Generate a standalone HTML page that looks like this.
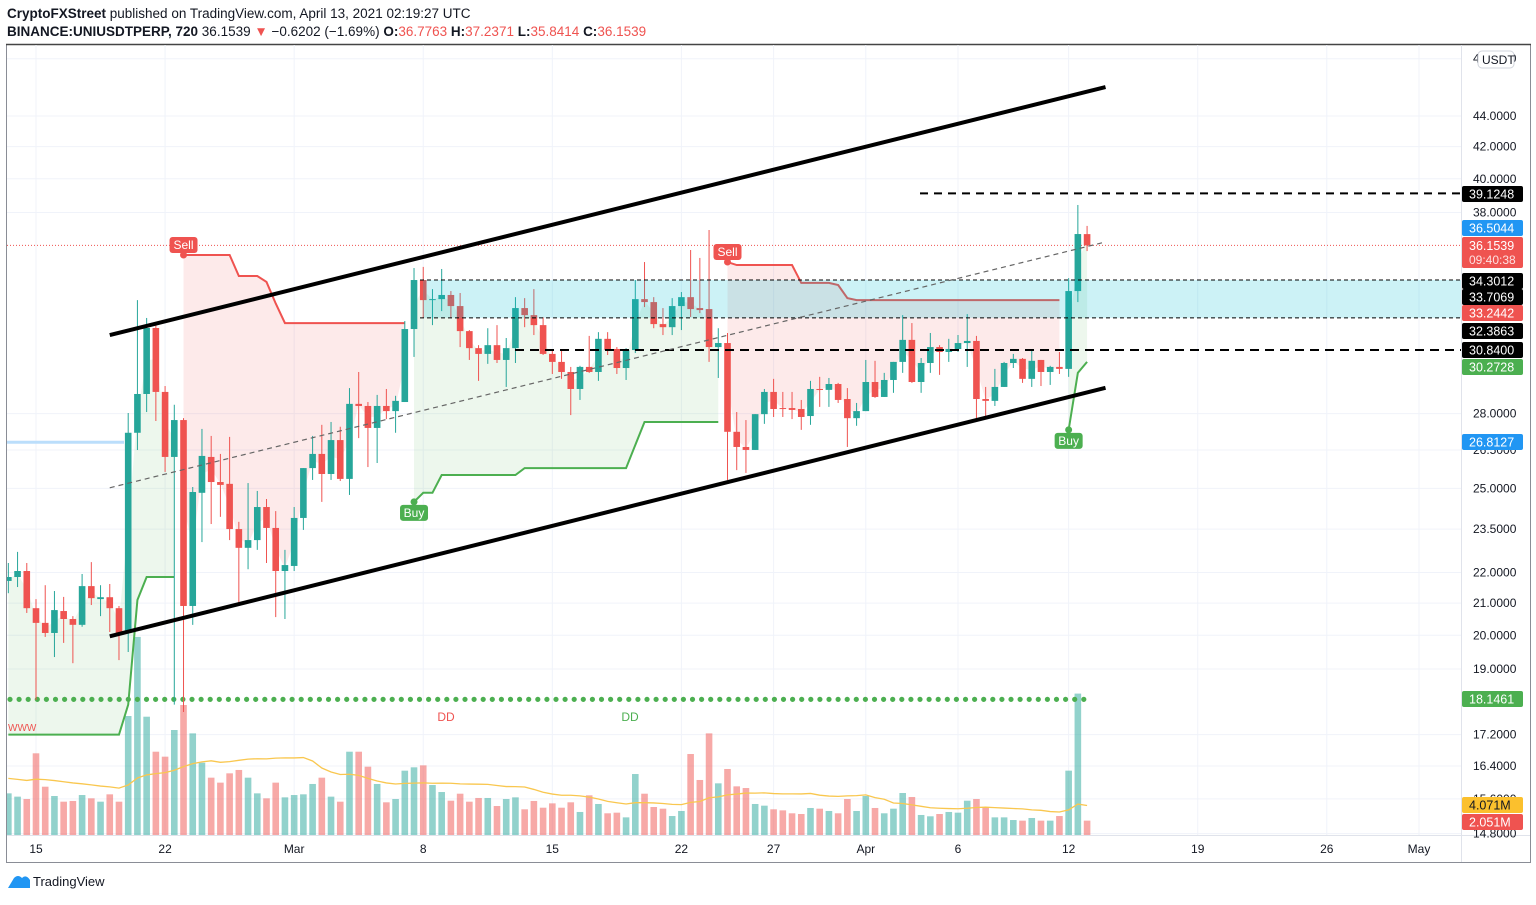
<!DOCTYPE html>
<html><head><meta charset="utf-8">
<style>
body{margin:0;background:#fff;width:1536px;height:900px;overflow:hidden;font-family:"Liberation Sans",sans-serif}
svg text{font-family:"Liberation Sans",sans-serif}
</style></head>
<body>
<svg id="chart" width="1536" height="900" viewBox="0 0 1536 900">
<defs><clipPath id="plotClip"><rect x="7" y="45" width="1454" height="790"/></clipPath></defs>
<g>
<text x="7" y="18" font-size="13.5" fill="#131722"><tspan font-weight="bold">CryptoFXStreet</tspan> published on TradingView.com, April 13, 2021 02:19:27 UTC</text>
<text x="7" y="36" font-size="13.5" fill="#131722"><tspan font-weight="bold">BINANCE:UNIUSDTPERP, 720</tspan> 36.1539 <tspan fill="#ef5350">▼</tspan> −0.6202 (−1.69%) <tspan font-weight="bold">O:</tspan><tspan fill="#ef5350">36.7763</tspan> <tspan font-weight="bold">H:</tspan><tspan fill="#ef5350">37.2371</tspan> <tspan font-weight="bold">L:</tspan><tspan fill="#ef5350">35.8414</tspan> <tspan font-weight="bold">C:</tspan><tspan fill="#ef5350">36.1539</tspan></text>
</g>
<rect x="6.5" y="44.5" width="1524" height="818" fill="none" stroke="#8a8d96" stroke-width="1"/>
<line x1="6" y1="44.5" x2="1531" y2="44.5" stroke="#444" stroke-width="1.5"/>
<g id="grid"></g>
<g clip-path="url(#plotClip)">
<g id="fills"></g>
<g id="volume"></g>
<g id="levels"></g>
<g id="st"></g>
<g id="candles"></g>
<g id="zone"></g>
<g id="channel"></g>
<g id="marks"></g>
</g>
<line x1="1461.5" y1="45" x2="1461.5" y2="862" stroke="#e0e3eb"/>
<line x1="7" y1="835.5" x2="1530" y2="835.5" stroke="#e0e3eb"/>
<g id="paxis"></g>
<g id="taxis"></g>
<g>
<path d="M8 888 L14 878 Q18 874 22 878 Q26 874 30 880 L30 888 Z" fill="#2196f3"/>
<text x="33" y="886" font-size="13" fill="#131722">TradingView</text>
</g>
</svg>
<script>
const NS='http://www.w3.org/2000/svg';
const firstHalfDay=-3;
const opens=[21.72,21.85,22.05,20.84,20.38,20.07,20.75,20.50,20.32,21.55,21.13,21.19,20.84,
20.07,27.20,28.85,31.89,28.94,26.22,27.73,20.91,24.83,26.22,
25.24,25.17,23.50,22.84,23.11,24.30,23.54,22.05,22.22,23.90,
25.78,26.34,25.55,26.90,25.36,28.42,28.33,27.40,28.33,28.11,
28.50,31.84,34.30,33.27,33.32,33.53,32.97,31.74,30.93,30.66,
31.07,30.38,30.93,32.87,32.52,32.03,30.66,30.29,29.83,29.07,
30.06,29.83,31.37,30.89,30.01,30.84,33.32,33.17,32.08,31.93,
32.97,33.42,32.87,32.82,30.98,31.17,27.24,26.62,26.50,27.98,
28.94,28.24,28.24,28.20,27.90,29.07,29.03,29.29,28.63,27.81,
28.11,29.38,28.72,29.47,30.29,31.32,29.38,30.24,30.98,30.75,
30.89,31.17,31.27,28.63,28.55,29.16,30.24,30.43,29.52,30.38,
29.83,30.06,29.97,33.73,36.7763];
const highs=[22.32,22.70,22.32,21.13,21.58,21.39,21.20,20.59,21.95,22.35,21.58,21.62,20.91,
28.03,33.27,32.38,32.13,29.20,28.38,27.81,25.05,27.36,27.07,
26.34,27.03,23.76,25.20,24.90,24.60,24.15,22.77,24.30,25.78,
27.07,27.53,27.65,27.45,29.11,29.83,28.50,28.81,29.07,28.77,
32.23,34.93,34.99,33.83,34.88,33.73,33.63,31.79,31.07,31.88,
32.03,31.41,33.42,33.37,33.83,32.42,30.84,30.84,30.06,30.11,
31.51,31.69,31.69,30.98,30.93,34.30,35.25,33.42,32.87,33.37,
33.68,35.90,35.47,37.01,31.88,31.65,28.07,27.73,27.98,29.07,
29.52,28.94,28.94,28.59,29.43,29.61,29.56,29.34,29.11,28.46,
30.38,30.34,29.79,30.29,32.52,32.13,30.47,31.65,31.07,31.37,
31.55,32.57,31.51,29.16,29.97,30.29,30.66,30.47,30.89,30.38,
30.11,30.75,34.40,38.44,37.2371];
const lows=[21.32,21.52,20.69,18.13,19.95,19.35,19.77,19.17,20.26,20.94,20.59,20.10,19.26,
19.50,26.50,28.07,27.69,25.63,18.00,17.80,20.32,23.04,23.68,
23.94,23.11,21.01,22.11,22.77,22.32,20.56,20.50,22.05,23.47,
25.32,24.49,25.32,25.28,24.75,26.98,25.82,25.98,27.77,27.20,
28.50,30.52,32.38,32.03,32.72,32.38,30.98,30.38,29.43,30.20,
30.24,29.16,30.24,31.93,31.55,30.61,29.74,29.52,27.94,28.59,
29.79,29.43,30.61,29.74,29.47,30.70,32.92,31.88,31.55,31.55,
31.79,32.43,32.62,30.29,29.56,25.32,25.70,25.59,26.50,27.57,
27.86,27.86,27.77,27.32,27.53,28.29,28.29,28.46,26.62,27.49,
28.11,28.68,28.72,28.90,29.79,29.34,28.90,29.79,29.70,30.29,
30.75,30.06,27.73,27.86,28.33,29.16,30.01,29.34,29.16,29.20,
29.25,29.74,29.61,33.17,35.8414];
const closes=[21.85,22.05,20.84,20.38,20.07,20.78,20.50,20.32,21.55,21.16,21.19,20.84,20.07,
27.20,28.85,31.89,28.94,26.22,27.73,20.91,24.86,26.26,25.24,
25.13,23.50,22.84,23.11,24.30,23.54,22.05,22.25,23.90,25.78,
26.34,25.55,26.90,25.36,28.42,28.33,27.40,28.33,28.11,28.55,
31.84,34.30,33.27,33.32,33.53,32.97,31.74,30.93,30.66,31.07,
30.38,30.93,32.87,32.52,32.03,30.66,30.29,29.83,29.07,30.06,
29.83,31.37,30.84,30.01,30.84,33.32,33.17,32.08,31.93,32.97,
33.42,32.82,32.77,30.98,31.17,27.24,26.62,26.50,27.98,28.94,
28.20,28.20,28.16,27.86,29.07,29.03,29.29,28.59,27.81,28.11,
29.38,28.72,29.47,30.29,31.32,29.38,30.24,30.98,30.75,30.89,
31.17,31.27,28.63,28.55,29.16,30.24,30.43,29.52,30.34,29.83,
30.06,29.97,33.73,36.78,36.1539];
const volumes=[5.95,5.48,5.14,11.67,6.9,5.57,4.76,4.86,5.71,5.24,4.76,5.81,4.76,
17.0,28.3,16.9,11.9,11.19,15.0,18.57,14.52,10.33,8.19,
7.48,8.81,9.29,8.19,5.95,5.24,7.48,5.38,5.71,5.81,
7.29,8.19,5.48,4.76,11.9,11.9,9.76,7.29,4.67,5.14,
9.19,9.67,9.95,7.14,6.14,4.9,5.9,4.76,5.29,5.29,
4.14,5.14,5.38,3.67,4.86,3.9,4.52,3.9,4.67,3.29,
5.67,4.43,3.1,3.19,2.52,8.71,5.9,4.0,3.76,2.71,
3.43,11.57,7.86,14.52,7.38,9.43,6.95,6.71,4.43,4.19,
3.67,3.52,3.1,3.0,3.86,3.76,3.43,3.1,5.14,3.43,
5.57,3.86,3.1,3.76,6.0,5.43,2.86,2.67,3.0,3.29,
3.19,4.9,5.14,4.0,2.52,2.52,2.14,2.05,2.43,2.05,
2.05,2.71,9.19,20.2,2.051];
const N=null;
const stUp=[17.2,17.2,17.2,17.2,17.2,17.2,17.2,17.2,17.2,17.2,17.2,17.2,17.2,
18.0,21.10,21.85,21.85,21.85,21.85,N,N,N,N,
N,N,N,N,N,N,N,N,N,N,
N,N,N,N,N,N,N,N,N,N,
N,24.49,24.83,24.83,25.51,25.51,25.51,25.51,25.51,25.51,
25.51,25.51,25.51,25.78,25.78,25.78,25.78,25.78,25.78,25.78,
25.78,25.78,25.78,25.78,25.78,26.7,27.65,27.65,27.65,27.65,
27.65,27.65,27.65,27.65,27.65,N,N,N,N,N,
N,N,N,N,N,N,N,N,N,N,
N,N,N,N,N,N,N,N,N,N,
N,N,N,N,N,N,N,N,N,N,
N,N,27.32,29.79,30.29];
const stDn=[N,N,N,N,N,N,N,N,N,N,N,N,N,
N,N,N,N,N,N,35.63,35.63,35.63,35.63,
35.63,35.63,34.51,34.51,34.51,34.2,33.1,32.13,32.13,32.13,
32.13,32.13,32.13,32.13,32.13,32.13,32.13,32.13,32.13,32.13,
32.13,N,N,N,N,N,N,N,N,N,
N,N,N,N,N,N,N,N,N,N,
N,N,N,N,N,N,N,N,N,N,
N,N,N,N,N,35.25,35.09,35.09,35.09,35.09,
35.09,35.09,35.09,34.15,34.15,34.15,34.15,34.04,33.37,33.27,
33.27,33.27,33.27,33.27,33.27,33.27,33.27,33.27,33.27,33.27,
33.27,33.27,33.27,33.27,33.27,33.27,33.27,33.27,33.27,33.27,
33.27,33.27,N,N,N];
const priceTicks=[48,44,42,40,38,28,26.5,25,23.5,22,21,20,19,17.2,16.4,15.6,14.8];
const timeTickDays=[0,7,14,21,28,35,40,45,50,56,63,70,75];
const timeTickLabels=['15','22','Mar','8','15','22','27','Apr','6','12','19','26','May'];
const levelPrices=[39.1248,34.3012,32.3863,30.84];
const supportLevel=26.8127;
const dotLevel=18.1461;
const lastPrice=36.1539;
const volMaLen=20;
const priorVolAvg=8.2;
const chanUpper=[[8,31.55],[116,45.98]];
const chanLower=[[8,19.97],[116,29.12]];
const chanMid=[[8,25.02],[116,36.34]];

function xOf(h){return 36+h*9.22;}
function yOf(p){return 116+(Math.log(44)-Math.log(p))*658.6;}
function vy(v){return 835-v*7;}
function hOf(k){return k+firstHalfDay;}
function kOf(h){return h-firstHalfDay;}
function mk(parent,tag,attrs,text){const e=document.createElementNS(NS,tag);for(const k in attrs)e.setAttribute(k,attrs[k]);if(text!==undefined)e.textContent=text;parent.appendChild(e);return e;}
const G=id=>document.getElementById(id);

for(const p of priceTicks){
  const el=mk(G('grid'),'line',{x1:7,x2:1461,y1:yOf(p),y2:yOf(p),stroke:'#f0f3fa'});
  
  
}
timeTickDays.forEach((d,i)=>{
  const el=mk(G('grid'),'line',{x1:xOf(d*2),x2:xOf(d*2),y1:45,y2:835,stroke:'#f0f3fa'});
  
  
  const t=mk(G('taxis'),'text',{x:xOf(d*2),y:853,'font-size':12,fill:'#131722','text-anchor':'middle'},timeTickLabels[i]);
  
  
});

function runs(arr){const r=[];let s=-1;arr.forEach((v,k)=>{if(v!==null&&s<0)s=k;if((v===null||k===arr.length-1)&&s>=0){r.push([s,v===null?k-1:k]);s=-1;}});return r;}
function fillRuns(arr,color,name){
  for(const [a,b] of runs(arr)){
    let pts=[];
    for(let k=a;k<=b;k++)pts.push(xOf(hOf(k))+','+yOf(arr[k]));
    for(let k=b;k>=a;k--)pts.push(xOf(hOf(k))+','+yOf((opens[k]+closes[k])/2));
    const el=mk(G('fills'),'polygon',{points:pts.join(' '),fill:color});
    
    
    const pl=[];for(let k=a;k<=b;k++)pl.push(xOf(hOf(k))+','+yOf(arr[k]));
    const ln=mk(G('st'),'polyline',{points:pl.join(' '),fill:'none',stroke:name==='uptrend-fill'?'#4caf50':'#ef5350','stroke-width':2});
    
    
  }
}
fillRuns(stUp,'rgba(76,175,80,0.1)','uptrend-fill');
fillRuns(stDn,'rgba(239,83,80,0.12)','downtrend-fill');

const maPts=[];
volumes.forEach((v,k)=>{
  const up=closes[k]>=opens[k];
  const x=xOf(hOf(k));
  const el=mk(G('volume'),'rect',{x:x-3.3,y:vy(v),width:6.6,height:v*7,fill:up?'rgba(38,166,154,0.5)':'rgba(239,83,80,0.5)'});
  
  
  let s=0;for(let j=k-volMaLen+1;j<=k;j++)s+=(j>=0?volumes[j]:priorVolAvg);
  maPts.push(x+','+vy(s/volMaLen));
});
const ma=mk(G('volume'),'polyline',{points:maPts.join(' '),fill:'none',stroke:'#f9c74f','stroke-width':1.3});



const lv=G('levels');
let el=mk(lv,'line',{x1:7,x2:1461,y1:yOf(lastPrice),y2:yOf(lastPrice),stroke:'#ef5350','stroke-width':1,'stroke-dasharray':'1,2'});


el=mk(lv,'line',{x1:7,x2:124,y1:yOf(supportLevel),y2:yOf(supportLevel),stroke:'#bbdefb','stroke-width':3});


for(let x=10;x<=1090;x+=9.1){
  el=mk(lv,'circle',{cx:x,cy:yOf(dotLevel),r:2.6,fill:'#4caf50'});
  
  
}
el=mk(lv,'text',{x:446,y:721,'font-size':12,fill:'#ef5350','text-anchor':'middle'},'DD');


el=mk(lv,'text',{x:630,y:721,'font-size':12,fill:'#4caf50','text-anchor':'middle'},'DD');


el=mk(lv,'text',{x:8,y:731,'font-size':10,fill:'#ef5350'},'WWW');



closes.forEach((c,k)=>{
  const o=opens[k],up=c>=o,col=up?'#26a69a':'#ef5350',x=xOf(hOf(k));
  const w=mk(G('candles'),'line',{x1:x,x2:x,y1:yOf(highs[k]),y2:yOf(lows[k]),stroke:col,'stroke-width':1});
  
  
  const t=yOf(Math.max(o,c)),b=yOf(Math.min(o,c));
  const r=mk(G('candles'),'rect',{x:x-3.3,y:t,width:6.6,height:Math.max(1,b-t),fill:col});
  
  
});

el=mk(G('zone'),'rect',{x:423,y:yOf(levelPrices[1]),width:1038,height:yOf(levelPrices[2])-yOf(levelPrices[1]),fill:'rgba(0,188,212,0.2)'});


const lvStarts=[920,420,420,515],lvW=[2,1,1,2],lvD=['8,6','4,3','4,3','9,6'];
levelPrices.forEach((p,i)=>{
  const l=mk(G('zone'),'line',{x1:lvStarts[i],x2:1461,y1:yOf(p),y2:yOf(p),stroke:'#000','stroke-width':lvW[i],'stroke-dasharray':lvD[i]});
  
  
});

function chan(pts,w,dash,col,name){
  const l=mk(G('channel'),'line',{x1:xOf(pts[0][0]),y1:yOf(pts[0][1]),x2:xOf(pts[1][0]),y2:yOf(pts[1][1]),stroke:col,'stroke-width':w,'stroke-dasharray':dash});
  
  
}
chan(chanUpper,4,'none','#000','channel-upper');
chan(chanLower,4,'none','#000','channel-lower');
chan(chanMid,1.2,'5,4','#666','channel-mid');

function sig(h,arr,txt,col,above){
  const k=kOf(h);
  const x=xOf(h),y=yOf(arr[k]);
  const d=mk(G('marks'),'circle',{cx:x,cy:y,r:3.5,fill:col});
  
  
  const by=above?y-18:y+3;
  const r=mk(G('marks'),'rect',{x:x-14,y:by,width:28,height:16,rx:3,fill:col});
  
  
  const t=mk(G('marks'),'text',{x:x,y:by+12,'font-size':12,fill:'#fff','text-anchor':'middle'},txt);
  
  
}
sig(16,stDn,'Sell','#ef5350',true);
sig(75,stDn,'Sell','#ef5350',true);
sig(41,stUp,'Buy','#4caf50',false);
sig(112,stUp,'Buy','#4caf50',false);

for(const p of priceTicks){
  const t=mk(G('paxis'),'text',{x:1473,y:yOf(p)+4,'font-size':12,fill:'#131722'},p.toFixed(4));
  
  
}
const axLabels=[['39.1248',194,'#000'],['36.5044',228,'#2196f3'],['34.3012',281,'#000'],['33.7069',297,'#000'],['33.2442',313,'#ef5350'],['32.3863',331,'#000'],['30.8400',350,'#000'],['30.2728',367,'#4caf50'],['26.8127',442,'#2196f3'],['18.1461',699,'#4caf50'],['4.071M',805,'#fbc02d'],['2.051M',822,'#ef5350']];
for(const [s,y,c] of axLabels){
  const r=mk(G('paxis'),'rect',{x:1462,y:y-8,width:61,height:16,rx:2,fill:c});
  
  
  const t=mk(G('paxis'),'text',{x:1469,y:y+4.5,'font-size':12.5,fill:c==='#fbc02d'?'#131722':'#fff'},s);
  
  
}
el=mk(G('paxis'),'rect',{x:1462,y:237,width:61,height:31,rx:2,fill:'#ef5350'});


el=mk(G('paxis'),'text',{x:1469,y:250,'font-size':12.5,fill:'#fff'},'36.1539');


el=mk(G('paxis'),'text',{x:1469,y:264,'font-size':12,fill:'#fde0e0'},'09:40:38');


el=mk(G('paxis'),'rect',{x:1478,y:51,width:36,height:17,rx:4,fill:'#fff',stroke:'#d1d4dc'});


el=mk(G('paxis'),'text',{x:1482,y:64,'font-size':12,fill:'#131722'},'USDT');


</script>
</body></html>
